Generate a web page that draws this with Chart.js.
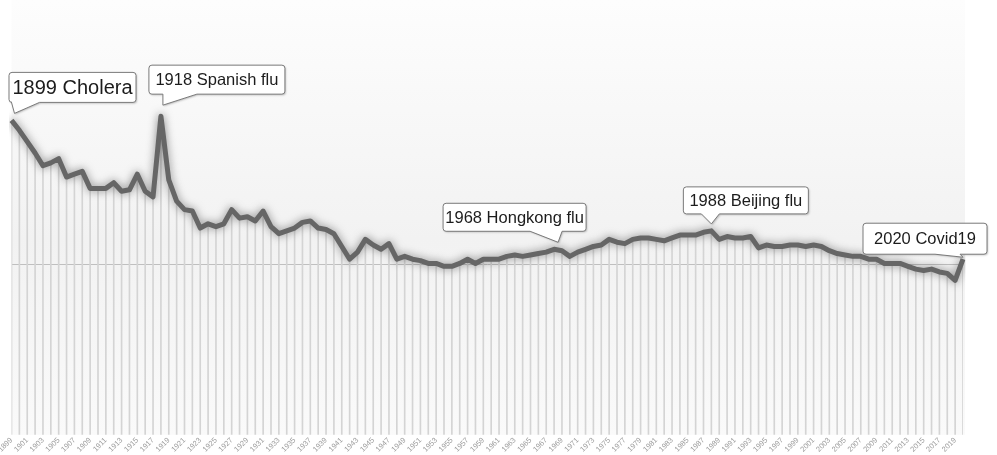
<!DOCTYPE html>
<html>
<head>
<meta charset="utf-8">
<script src="https://cdn.jsdelivr.net/npm/chart.js@4.4.1/dist/chart.umd.min.js"></script>
<style>
  html, body { margin: 0; padding: 0; background: #fff; }
  canvas { display: block; }
</style>
</head>
<body>
<canvas id="mortality" width="997" height="455"></canvas>
<script>
// deaths per 1000 inhabitants
const years = ["1899","1900","1901","1902","1903","1904","1905","1906","1907","1908","1909",
  "1910","1911","1912","1913","1914","1915","1916","1917","1918","1919",
  "1920","1921","1922","1923","1924","1925","1926","1927","1928","1929",
  "1930","1931","1932","1933","1934","1935","1936","1937","1938","1939",
  "1940","1941","1942","1943","1944","1945","1946","1947","1948","1949",
  "1950","1951","1952","1953","1954","1955","1956","1957","1958","1959",
  "1960","1961","1962","1963","1964","1965","1966","1967","1968","1969",
  "1970","1971","1972","1973","1974","1975","1976","1977","1978","1979",
  "1980","1981","1982","1983","1984","1985","1986","1987","1988","1989",
  "1990","1991","1992","1993","1994","1995","1996","1997","1998","1999",
  "2000","2001","2002","2003","2004","2005","2006","2007","2008","2009",
  "2010","2011","2012","2013","2014","2015","2016","2017","2018","2019","2020"];

const deathRate = [22.2, 21.5, 20.7, 19.9, 19.0, 19.2, 19.5, 18.2, 18.4, 18.6, 17.4,
  17.4, 17.4, 17.8, 17.2, 17.3, 18.4, 17.2, 16.8, 22.5, 18.0,
  16.5, 15.9, 15.8, 14.6, 14.9, 14.7, 14.9, 15.9, 15.3, 15.4,
  15.1, 15.8, 14.7, 14.2, 14.4, 14.6, 15.0, 15.1, 14.6, 14.5,
  14.2, 13.3, 12.4, 12.9, 13.8, 13.4, 13.1, 13.5, 12.4, 12.6,
  12.4, 12.3, 12.1, 12.1, 11.9, 11.9, 12.1, 12.4, 12.1, 12.4,
  12.4, 12.4, 12.6, 12.7, 12.6, 12.7, 12.8, 12.9, 13.1, 13.0,
  12.6, 12.9, 13.1, 13.3, 13.4, 13.8, 13.6, 13.5, 13.8, 13.9,
  13.9, 13.8, 13.7, 13.9, 14.1, 14.1, 14.1, 14.3, 14.4, 13.8,
  14.0, 13.9, 13.9, 14.0, 13.2, 13.4, 13.3, 13.3, 13.4, 13.4,
  13.3, 13.4, 13.3, 13.0, 12.8, 12.7, 12.6, 12.6, 12.4, 12.4,
  12.1, 12.1, 12.1, 11.9, 11.7, 11.6, 11.7, 11.5, 11.4, 10.9, 12.4];

const refLevel = 12;

const noteYears = ["1899", "1918", "1968", "1988", "2020"];
const noteTexts = ["1899 Cholera", "1918 Spanish flu", "1968 Hongkong flu", "1988 Beijing flu", "2020 Covid19"];

// box placement relative to the annotated point (pixels)
const noteLayout = [
  { dx: -2.5, dy: -48, w: 127, h: 30, size: 20,   tail: [0, 28],   tip: [3, -7] },
  { dx: -12,  dy: -51, w: 136, h: 29, size: 16.5, tail: [2, 36],   tip: [2, -11] },
  { dx: -111, dy: -46, w: 143, h: 28, size: 16.5, tail: [-24, 8],  tip: [4, -7] },
  { dx: -28,  dy: -44, w: 125, h: 27, size: 16.5, tail: [-10, 8],  tip: [0, -7] },
  { dx: -100, dy: -36, w: 124, h: 31, size: 16.5, tail: [-28, -3], tip: [0, -2] }
];

const background = {
  id: 'background',
  beforeDraw(chart) {
    const { ctx, chartArea: a } = chart;
    ctx.save();
    ctx.fillStyle = '#fff';
    ctx.fillRect(0, 0, chart.width, chart.height);
    const g = ctx.createLinearGradient(0, a.top, 0, a.bottom);
    g.addColorStop(0, '#fdfdfd');
    g.addColorStop(0.55, '#f2f2f2');
    g.addColorStop(1, '#fafafa');
    ctx.fillStyle = g;
    ctx.fillRect(a.left, a.top, a.right - a.left + 2, a.bottom - a.top);
    ctx.restore();
  }
};

const glow = {
  id: 'glow',
  beforeDatasetDraw(chart, args) {
    if (args.index !== 0) return;
    const ctx = chart.ctx;
    ctx.save();
    ctx.shadowColor = 'rgba(60,60,60,0.6)';
    ctx.shadowBlur = 8;
  },
  afterDatasetDraw(chart, args) {
    if (args.index !== 0) return;
    chart.ctx.restore();
  }
};

const callouts = {
  id: 'callouts',
  afterDatasetsDraw(chart) {
    const { ctx, scales: { x, y } } = chart;
    noteYears.forEach((yr, k) => {
      const i = years.indexOf(yr);
      const px = x.getPixelForValue(i);
      const py = y.getPixelForValue(deathRate[i]);
      const L = noteLayout[k];
      const bx = px + L.dx, by = py + L.dy, w = L.w, h = L.h, r = 3;
      const tx = px + L.tip[0], ty = py + L.tip[1];

      ctx.save();
      ctx.beginPath();
      ctx.moveTo(bx + r, by);
      ctx.lineTo(bx + w - r, by);
      ctx.arcTo(bx + w, by, bx + w, by + r, r);
      ctx.lineTo(bx + w, by + h - r);
      ctx.arcTo(bx + w, by + h, bx + w - r, by + h, r);
      ctx.lineTo(px + L.tail[1], by + h);
      ctx.lineTo(tx, ty);
      ctx.lineTo(px + L.tail[0], by + h);
      ctx.lineTo(bx + r, by + h);
      ctx.arcTo(bx, by + h, bx, by + h - r, r);
      ctx.lineTo(bx, by + r);
      ctx.arcTo(bx, by, bx + r, by, r);
      ctx.closePath();
      ctx.shadowColor = 'rgba(0,0,0,0.25)';
      ctx.shadowOffsetX = 1;
      ctx.shadowOffsetY = 1;
      ctx.shadowBlur = 2;
      ctx.fillStyle = '#fff';
      ctx.fill();
      ctx.shadowColor = 'transparent';
      ctx.strokeStyle = '#7a7a7a';
      ctx.lineWidth = 1;
      ctx.stroke();

      ctx.fillStyle = '#1c1c1c';
      ctx.font = L.size + 'px "Liberation Sans", Arial, sans-serif';
      ctx.textAlign = 'center';
      ctx.textBaseline = 'middle';
      ctx.fillText(noteTexts[k], bx + w / 2, by + h / 2 + 1);
      ctx.restore();
    });
  }
};

new Chart(document.getElementById('mortality'), {
  type: 'line',
  data: {
    labels: years,
    datasets: [{
      data: deathRate,
      borderColor: '#666666',
      borderWidth: 5,
      pointRadius: 0,
      tension: 0,
      borderJoinStyle: 'round'
    }, {
      type: 'bar',
      data: deathRate,
      backgroundColor: '#d4d4d4',
      borderWidth: 0,
      barThickness: 1
    }]
  },
  options: {
    responsive: false,
    animation: false,
    layout: { padding: { left: 11.5, right: 34, top: 0, bottom: 0 } },
    plugins: { legend: { display: false }, tooltip: { enabled: false } },
    scales: {
      x: {
        offset: false,
        grid: { display: false, drawTicks: false },
        border: { display: false },
        ticks: {
          autoSkip: false,
          minRotation: 45,
          maxRotation: 45,
          padding: 1,
          color: '#9c9c9c',
          font: { size: 7.5, family: '"Liberation Sans", Arial, sans-serif' },
          callback: (v, i) => (i % 2 === 0 ? years[i] : '')
        },
        afterFit(scale) {
          scale.paddingLeft = 0;
          scale.paddingRight = 0;
        }
      },
      y: {
        min: 0,
        max: 30.7,
        border: { display: false },
        grid: { color: '#bfbfbf', drawTicks: false },
        ticks: { display: false },
        afterBuildTicks(scale) {
          scale.ticks = [{ value: refLevel }];
        }
      }
    }
  },
  plugins: [background, glow, callouts]
});
</script>
</body>
</html>
